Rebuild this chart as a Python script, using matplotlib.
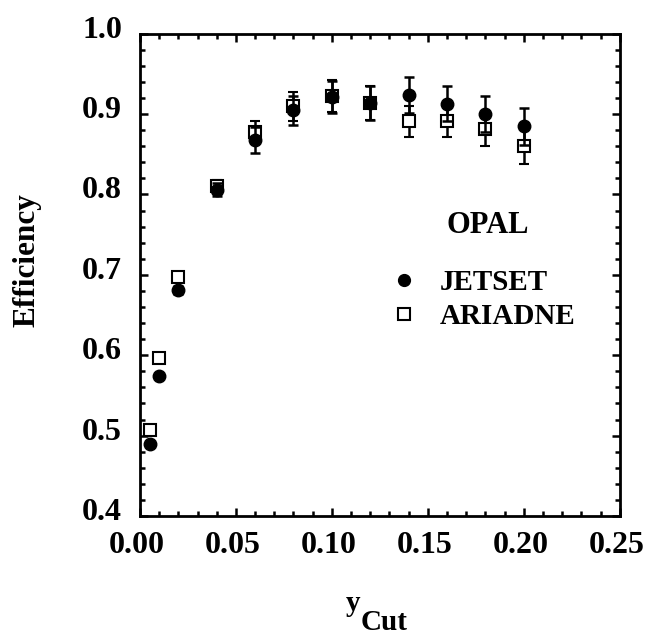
import matplotlib
matplotlib.use("Agg")
import matplotlib.pyplot as plt
import matplotlib.transforms as mtrans
from matplotlib.ticker import MultipleLocator, FormatStrFormatter
from matplotlib.lines import Line2D

ycut = [0.005, 0.01, 0.02, 0.04, 0.06, 0.08, 0.10, 0.12, 0.14, 0.16, 0.18, 0.20]
jetset = [0.490, 0.574, 0.681, 0.806, 0.868, 0.905, 0.921, 0.914, 0.924, 0.913, 0.900, 0.885]
jetset_err = [0.0, 0.0, 0.005, 0.008, 0.016, 0.018, 0.020, 0.021, 0.022, 0.022, 0.022, 0.023]
ariadne = [0.507, 0.596, 0.697, 0.810, 0.878, 0.910, 0.923, 0.914, 0.891, 0.892, 0.881, 0.860]
ariadne_err = [0.0, 0.0, 0.005, 0.008, 0.014, 0.018, 0.020, 0.021, 0.019, 0.021, 0.021, 0.022]

plt.rcParams['font.family'] = ['Liberation Serif', 'DejaVu Serif']
plt.rcParams['font.weight'] = 'bold'

fig = plt.figure(figsize=(6.51, 6.37), dpi=100)
ax = fig.add_axes([0.215, 0.190, 0.737, 0.757])

ax.errorbar(ycut, ariadne, yerr=ariadne_err, fmt='s', mfc='white', mec='black',
            mew=1.5, ms=8.5, ecolor='black', elinewidth=1.8, capsize=3.8, capthick=1.8, zorder=2)
ax.errorbar(ycut, jetset, yerr=jetset_err, fmt='o', color='black', ms=9,
            ecolor='black', elinewidth=1.8, capsize=3.8, capthick=1.8, zorder=3)

ax.set_xlim(0.0, 0.25)
ax.set_ylim(0.4, 1.0)
ax.xaxis.set_major_locator(MultipleLocator(0.05))
ax.xaxis.set_minor_locator(MultipleLocator(0.01))
ax.yaxis.set_major_locator(MultipleLocator(0.1))
ax.yaxis.set_minor_locator(MultipleLocator(0.02))
ax.xaxis.set_major_formatter(FormatStrFormatter('%.2f'))
ax.yaxis.set_major_formatter(FormatStrFormatter('%.1f'))

for s in ax.spines.values():
    s.set_linewidth(2.0)
ax.tick_params(which='both', direction='in', top=True, right=True, width=1.8)
ax.tick_params(which='major', length=6, labelsize=23)
ax.tick_params(axis='x', which='major', pad=11)
ax.tick_params(axis='y', which='major', pad=13)
ax.tick_params(which='minor', length=3.5)
for lab in ax.get_xticklabels() + ax.get_yticklabels():
    lab.set_fontweight('bold')
up = mtrans.ScaledTranslation(0, 7 / 100, fig.dpi_scale_trans)
for lab in ax.get_yticklabels():
    lab.set_transform(lab.get_transform() + up)
left = mtrans.ScaledTranslation(-3 / 100, 0, fig.dpi_scale_trans)
for lab in ax.get_xticklabels():
    lab.set_transform(lab.get_transform() + left)

ax.set_ylabel('Efficiency', fontsize=22.5, fontweight='bold')
ax.yaxis.set_label_coords(-0.205, 0.531)

ax.set_xlabel('y', fontsize=21, fontweight='bold')
ax.xaxis.label.set_va('baseline')
ax.xaxis.set_label_coords(0.445, -0.197)
ax.text(0.459, -0.2365, 'Cut', transform=ax.transAxes, ha='left', va='baseline',
        fontsize=21, fontweight='bold', clip_on=False)

ax.text(0.725, 0.602, 'OPAL', transform=ax.transAxes, ha='center', va='center',
        fontsize=22, fontweight='bold')

handles = [Line2D([], [], ls='none', marker='o', color='black', ms=8.5),
           Line2D([], [], ls='none', marker='s', mfc='white', mec='black', mew=1.5, ms=8)]
leg = ax.legend(handles, ['JETSET', 'ARIADNE'], loc='upper left', bbox_to_anchor=(0.520, 0.512),
                frameon=False, handlelength=1.0, handletextpad=0.74, labelspacing=0.25,
                borderpad=0, borderaxespad=0, prop={'size': 21, 'weight': 'bold'})

fig.savefig('out.png', dpi=100)
